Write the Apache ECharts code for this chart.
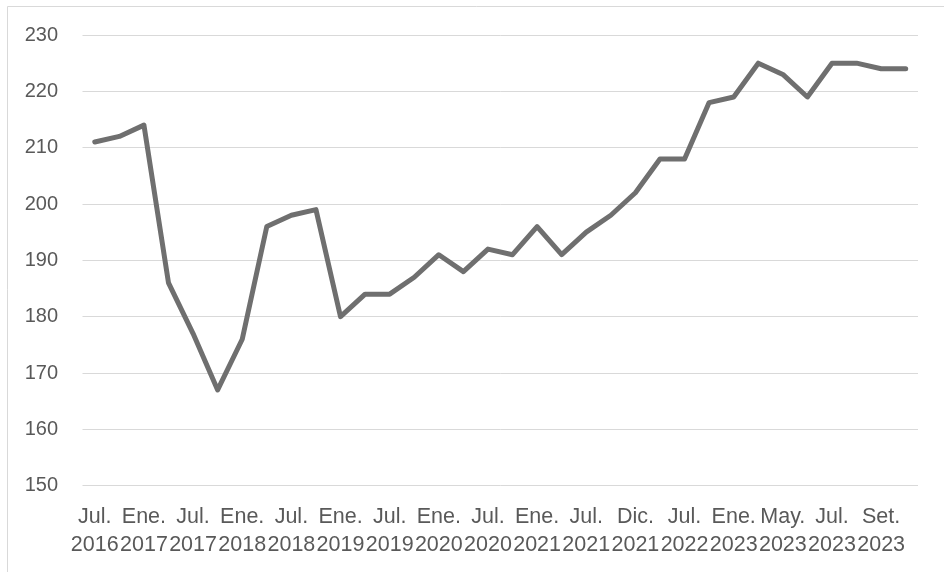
<!DOCTYPE html>
<html>
<head>
<meta charset="utf-8">
<script src="https://cdn.jsdelivr.net/npm/echarts@6/dist/echarts.min.js"></script>
<style>
  html, body { margin: 0; padding: 0; background: #ffffff; }
  #chart { width: 944px; height: 572px; }
</style>
</head>
<body>
<div id="chart"></div>
<script>
// Periods (only every second one is labelled on the axis)
const periods = [
  'Jul. 2016', 'Oct. 2016', 'Ene. 2017', 'Abr. 2017', 'Jul. 2017', 'Oct. 2017',
  'Ene. 2018', 'Abr. 2018', 'Jul. 2018', 'Oct. 2018', 'Ene. 2019', 'Abr. 2019',
  'Jul. 2019', 'Oct. 2019', 'Ene. 2020', 'Abr. 2020', 'Jul. 2020', 'Oct. 2020',
  'Ene. 2021', 'Abr. 2021', 'Jul. 2021', 'Oct. 2021', 'Dic. 2021', 'Abr. 2022',
  'Jul. 2022', 'Oct. 2022', 'Ene. 2023', 'Mar. 2023', 'May. 2023', 'Jun. 2023',
  'Jul. 2023', 'Ago. 2023', 'Set. 2023', 'Oct. 2023'
];

// Index values per period
const values = [
  211, 212, 214, 186, 177, 167,
  176, 196, 198, 199, 180, 184,
  184, 187, 191, 188, 192, 191,
  196, 191, 195, 198, 202, 208,
  208, 218, 219, 225, 223, 219,
  225, 225, 224, 224
];

// Value axis range and step
const yMin = 150;
const yMax = 230;
const yStep = 10;

const chart = echarts.init(document.getElementById('chart'), null, { renderer: 'canvas' });

chart.setOption({
  animation: false,
  backgroundColor: '#ffffff',
  graphic: [{
    type: 'rect',
    shape: { x: 7.5, y: 6.5, width: 960, height: 600 },
    style: { fill: 'none', stroke: '#d9d9d9', lineWidth: 1 },
    silent: true,
    z: -1
  }],
  grid: { left: 82.5, right: 26, top: 35, bottom: 86.3, containLabel: false },
  xAxis: {
    type: 'category',
    boundaryGap: true,
    data: periods,
    axisLine: { show: false },
    axisTick: { show: false },
    axisLabel: {
      interval: 1,
      margin: 17,
      color: '#595959',
      fontFamily: 'Liberation Sans, Arial, sans-serif',
      fontSize: 21.5,
      lineHeight: 28,
      formatter: (v) => v.replace(' ', '\n')
    }
  },
  yAxis: {
    type: 'value',
    min: yMin,
    max: yMax,
    interval: yStep,
    axisLine: { show: false },
    axisTick: { show: false },
    splitLine: { lineStyle: { color: '#d9d9d9', width: 1 } },
    axisLabel: {
      margin: 24.5,
      color: '#595959',
      fontFamily: 'Liberation Sans, Arial, sans-serif',
      fontSize: 20
    }
  },
  series: [{
    type: 'line',
    data: values,
    symbol: 'none',
    smooth: false,
    lineStyle: { color: '#6f6f6f', width: 5, cap: 'round', join: 'round' }
  }]
});
</script>
</body>
</html>
